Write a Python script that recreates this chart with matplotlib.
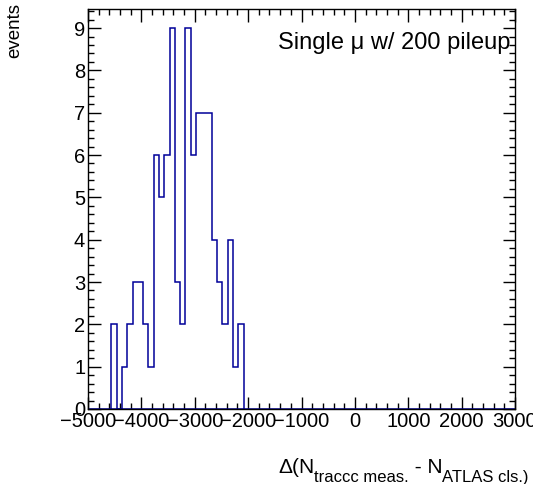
import numpy as np
import matplotlib
matplotlib.use("Agg")
import matplotlib.pyplot as plt
from matplotlib.ticker import MultipleLocator

plt.rcParams['font.family'] = ['Liberation Sans', 'DejaVu Sans']

# bin contents (25 bins, ~100 wide)
first_edge = -4560
bin_width = 99
counts = [2, 0, 1, 2, 3, 3, 2, 1, 6, 5, 6, 9, 3, 2, 9, 6, 7, 7, 7, 4, 3, 2, 4, 1, 2]

x_range = (-5000, 3000)
x_ticks = [-5000, -4000, -3000, -2000, -1000, 0, 1000, 2000, 3000]

# x title pieces: (text, is_subscript)
x_title = [('Δ(N', False), ('traccc meas.', True), (' - N', False), ('ATLAS cls.)', True)]

edges = first_edge + bin_width * np.arange(len(counts) + 1)

fig = plt.figure(figsize=(5.33, 4.84), dpi=100)
ax = fig.add_axes([88/533, 1 - 409/484, (515-88)/533, (409-9)/484])

ax.stairs(counts, edges, color='#000099', linewidth=1.1, baseline=0)
ax.plot(x_range, [0, 0], color='#000099', linewidth=1.1)

ax.set_xlim(*x_range)
ax.set_ylim(0, 1.05 * max(counts))
ax.set_xticks(x_ticks)
ax.xaxis.set_minor_locator(MultipleLocator(200))
ax.yaxis.set_major_locator(MultipleLocator(1))
ax.yaxis.set_minor_locator(MultipleLocator(0.2))

ax.tick_params(which='both', direction='in', top=True, right=True,
               labelsize=14.5, width=1.0, pad=2)
ax.tick_params(which='major', length=9)
ax.tick_params(which='minor', length=4.5)
for s in ax.spines.values():
    s.set_linewidth(1.0)

fig.text(15/533, 1 - 3/484, 'events', rotation=90, ha='center', va='top',
         fontsize=13.5)

# x title built piece by piece so the subscripts sit low like ROOT's
prev = fig.text(278/533, 1 - 477/484, x_title[0][0], ha='left', va='bottom',
                fontsize=15)
drop = 5.5
for txt, sub in x_title[1:]:
    dy = -drop if sub else drop
    prev = ax.annotate(txt, xy=(1, 0), xycoords=prev, xytext=(0, dy),
                       textcoords='offset points', ha='left', va='bottom',
                       fontsize=12 if sub else 15)

fig.text(278/533, 1 - 49/484, 'Single μ w/ 200 pileup', ha='left',
         va='baseline', fontsize=17)

fig.savefig('out.png', dpi=100)
